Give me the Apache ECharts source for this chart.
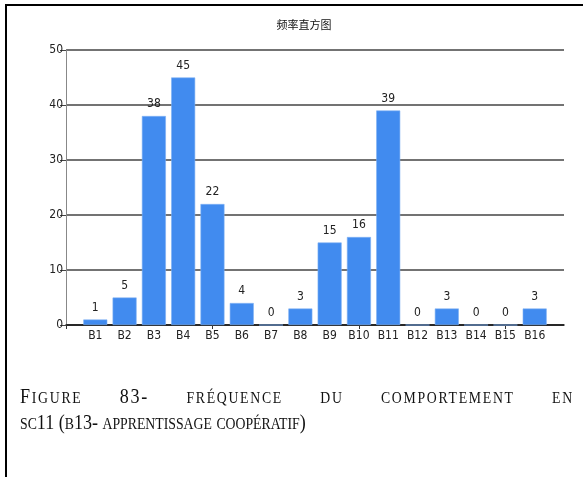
<!DOCTYPE html>
<html>
<head>
<meta charset="utf-8">
<script src="https://cdn.jsdelivr.net/npm/echarts@6/dist/echarts.min.js"></script>
<style>
  html, body { margin: 0; padding: 0; background: #fff; }
  #wrap { position: relative; width: 584px; height: 477px; overflow: hidden; }
  #chart { position: absolute; left: 0; top: 0; width: 584px; height: 477px; }
  .edge { position: absolute; background: #000; }
  #caption {
    position: absolute; left: 20px; top: 384px; width: 642px;
    transform: scaleX(0.86); transform-origin: 0 0;
    font-family: "Liberation Serif", "Times New Roman", serif;
    font-size: 21px; line-height: 25px; color: #111;
  }
  #caption .sc { font-size: 16px; }
  #caption .l1 { text-align: justify; text-align-last: justify; white-space: nowrap; letter-spacing: 2px; margin-right: -2px; }
  #caption .l2 { text-align: left; white-space: nowrap; }
</style>
</head>
<body>
<div id="wrap">
  <div id="chart"></div>
  <div class="edge" style="left:5px; top:4px; width:578px; height:2px;"></div>
  <div class="edge" style="left:5px; top:4px; width:2px; height:473px;"></div>
  <div id="caption">
    <div class="l1" data-text="Figure 83- fréquence du comportement en"></div>
    <div class="l2" data-text="sc11 (b13- apprentissage coopératif)"></div>
  </div>
</div>
<script>
// Behaviour codes B1..B16 and how often each was observed
const categories = ['B1','B2','B3','B4','B5','B6','B7','B8','B9','B10','B11','B12','B13','B14','B15','B16'];
const counts = [1, 5, 38, 45, 22, 4, 0, 3, 15, 16, 39, 0, 3, 0, 0, 3];
const yTicks = [0, 10, 20, 30, 40, 50];
const xTickMarks = [0, 5, 10, 15];

// Small-caps caption: lowercase letters become smaller capitals
document.querySelectorAll('#caption [data-text]').forEach(el => {
  const txt = el.getAttribute('data-text');
  let html = '';
  let i = 0;
  while (i < txt.length) {
    const lower = txt[i] !== txt[i].toUpperCase();
    let j = i;
    while (j < txt.length && (txt[j] !== txt[j].toUpperCase()) === lower) j++;
    const chunk = txt.slice(i, j);
    html += lower ? '<span class="sc">' + chunk.toUpperCase() + '</span>' : chunk;
    i = j;
  }
  el.innerHTML = html;
});

const numFont = '"Liberation Sans Narrow", "DejaVu Sans Condensed", "Liberation Sans", sans-serif';

// bars sit at positions 1..16 on a 0..17 value scale
const positions = categories.map((c, i) => i + 1);
const barData = counts.map((v, i) => [positions[i], v]);

const chart = echarts.init(document.getElementById('chart'), null, { renderer: 'canvas' });
chart.setOption({
  animation: false,
  backgroundColor: '#fff',
  title: {
    text: '频率直方图',
    left: 299,
    top: 14,
    textAlign: 'center',
    textStyle: {
      fontFamily: '"Noto Sans CJK SC", sans-serif',
      fontSize: 11,
      fontWeight: 'normal',
      color: '#111'
    }
  },
  grid: { left: 66, right: 20, top: 50, bottom: 152, containLabel: false },
  xAxis: {
    type: 'value',
    min: 0,
    max: 17,
    splitLine: { show: false },
    axisLine: { show: true, onZero: false, lineStyle: { color: '#111', width: 1.5 } },
    axisTick: {
      show: true,
      customValues: xTickMarks,
      length: 4,
      lineStyle: { color: '#333', width: 1 }
    },
    axisLabel: {
      show: true,
      customValues: positions,
      formatter: v => categories[v - 1] || '',
      margin: 5,
      fontFamily: numFont,
      fontSize: 12,
      color: '#222'
    }
  },
  yAxis: {
    type: 'value',
    min: 0,
    max: 50,
    interval: 10,
    axisLine: { show: true, lineStyle: { color: '#888', width: 1 } },
    axisTick: { show: true, length: 6, lineStyle: { color: '#444', width: 1 } },
    splitLine: { show: true, lineStyle: { color: '#444', width: 1.5 } },
    axisLabel: {
      margin: 3,
      fontFamily: numFont,
      fontSize: 12,
      color: '#222',
      customValues: yTicks
    }
  },
  series: [{
    type: 'bar',
    data: barData,
    barWidth: 24,
    itemStyle: { color: '#418BEF', borderColor: '#7DB0F4', borderWidth: 0.6 },
    label: {
      show: true,
      position: 'top',
      distance: 6,
      fontFamily: numFont,
      fontSize: 12,
      color: '#222',
      formatter: p => String(p.value[1])
    }
  }]
});
</script>
</body>
</html>
